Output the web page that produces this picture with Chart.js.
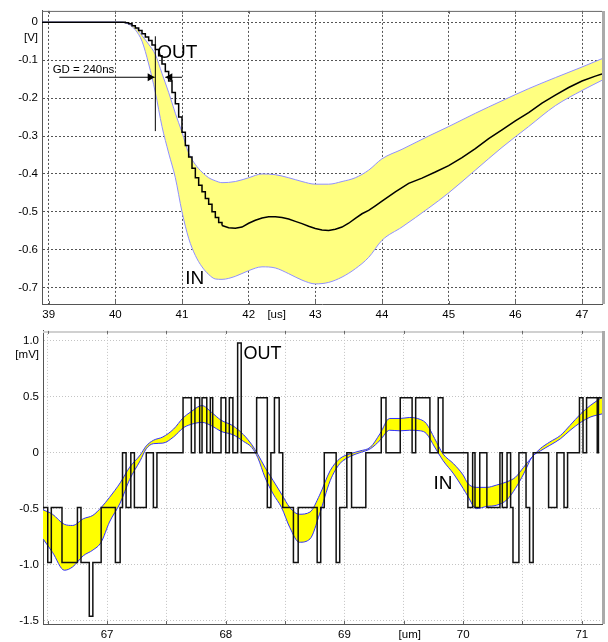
<!DOCTYPE html>
<html>
<head>
<meta charset="utf-8">
<script src="https://cdn.jsdelivr.net/npm/chart.js@4.4.1/dist/chart.umd.min.js"></script>
<style>
body { margin: 0; background: #fff; }
canvas { display: block; }
</style>
</head>
<body>
<canvas id="topChart" width="608" height="320"></canvas>
<canvas id="bottomChart" width="608" height="322"></canvas>
<script>
// top chart: time [us], voltage [V]
// OUT, sampled part (drawn as steps)
const outTopStepX = [38.9, 40.1, 40.15, 40.2, 40.25, 40.3, 40.35, 40.4, 40.45, 40.5, 40.55, 40.6, 40.65, 40.7, 40.75, 40.8, 40.85, 40.9, 40.95, 41.0,
    41.05, 41.1, 41.15, 41.2, 41.25, 41.3, 41.35, 41.4, 41.45, 41.5, 41.55, 41.6];
const outTopStepY = [0, 0, -0.001, -0.004, -0.009, -0.015, -0.022, -0.03, -0.039, -0.048, -0.06, -0.072, -0.088, -0.11, -0.13, -0.155, -0.185, -0.215, -0.25, -0.29,
    -0.325, -0.355, -0.385, -0.41, -0.43, -0.447, -0.465, -0.48, -0.5, -0.515, -0.528, -0.536];
// OUT, slow part
const outTopTailX = [41.6, 41.7, 41.8, 41.9, 42.0, 42.1, 42.2, 42.3, 42.4, 42.5, 42.6, 42.7, 42.8, 42.9, 43.0, 43.1, 43.2, 43.3, 43.4, 43.5,
    43.6, 43.7, 43.8, 43.9, 44.0, 44.2, 44.4, 44.6, 44.8, 45.0, 45.2, 45.4, 45.6, 45.8, 46.0, 46.2, 46.4, 46.6, 46.8, 47.0, 47.2, 47.3];
const outTopTailY = [-0.536, -0.542, -0.543, -0.54, -0.53, -0.522, -0.516, -0.513, -0.513, -0.515, -0.519, -0.525, -0.531, -0.538, -0.544, -0.548, -0.549, -0.546, -0.54, -0.53,
    -0.517, -0.505, -0.496, -0.484, -0.472, -0.447, -0.425, -0.411, -0.395, -0.378, -0.357, -0.333, -0.307, -0.284, -0.26, -0.238, -0.213, -0.192, -0.172, -0.155, -0.142, -0.136];

const inTopX = [38.9, 40.1, 40.2, 40.3, 40.4, 40.5, 40.6, 40.7, 40.8, 40.9, 41.0, 41.1, 41.2, 41.3, 41.4, 41.5, 41.6, 41.8, 42.0, 42.2,
    42.4, 42.6, 42.8, 43.0, 43.2, 43.4, 43.6, 43.8, 44.0, 44.3, 44.7, 45.0, 45.4, 45.8, 46.2, 46.6, 47.0, 47.3];
const inTopUpper = [0, 0, -0.003, -0.012, -0.035, -0.058, -0.085, -0.135, -0.185, -0.24, -0.29, -0.345, -0.375, -0.395, -0.41, -0.418, -0.423, -0.42, -0.41, -0.40,
    -0.402, -0.41, -0.42, -0.427, -0.427, -0.42, -0.41, -0.39, -0.36, -0.335, -0.30, -0.275, -0.24, -0.207, -0.175, -0.146, -0.118, -0.096];
const inTopLower = [0, 0, -0.005, -0.02, -0.05, -0.11, -0.185, -0.275, -0.345, -0.41, -0.50, -0.57, -0.615, -0.645, -0.665, -0.677, -0.678, -0.67, -0.655, -0.645,
    -0.648, -0.663, -0.68, -0.69, -0.686, -0.672, -0.65, -0.62, -0.575, -0.54, -0.49, -0.45, -0.39, -0.33, -0.275, -0.22, -0.18, -0.153];

const topXTicks = [39, 40, 41, 42, 43, 44, 45, 46, 47];
const topXLabels = ['39', '40', '41', '42', '43', '44', '45', '46', '47'];
const topYTicks = [0, -0.1, -0.2, -0.3, -0.4, -0.5, -0.6, -0.7];
const topYLabels = ['0', '-0.1', '-0.2', '-0.3', '-0.4', '-0.5', '-0.6', '-0.7'];

// bottom chart: position [um], signal [mV]
const outBotX = [66.46, 66.50, 66.53, 66.62, 66.75, 66.78, 66.85, 66.88, 66.95, 67.07, 67.11, 67.13, 67.16, 67.20, 67.23, 67.33, 67.39, 67.42, 67.64, 67.71,
    67.74, 67.78, 67.80, 67.84, 67.87, 67.89, 67.96, 68.00, 68.03, 68.06, 68.10, 68.13, 68.26, 68.35, 68.38, 68.41, 68.45, 68.48, 68.57, 68.61,
    68.77, 68.80, 68.83, 68.93, 68.96, 69.02, 69.06, 69.18, 69.31, 69.35, 69.47, 69.57, 69.60, 69.72, 69.79, 69.83, 70.04, 70.08, 70.10, 70.14,
    70.20, 70.31, 70.33, 70.37, 70.40, 70.42, 70.47, 70.53, 70.56, 70.59, 70.72, 70.79, 70.85, 70.88, 70.98, 71.01, 71.04, 71.13, 71.14, 71.17];
const outBotY = [-0.49, -0.98, -0.49, -0.98, -0.49, -0.98, -1.46, -0.98, -0.49, -0.98, -0.49, 0, -0.49, 0, -0.49, 0, -0.49, 0, 0.49, 0,
    0.49, 0, 0.49, 0, 0.49, 0, 0.49, 0, 0.49, 0, 0.98, 0, 0.49, -0.49, 0, 0.49, 0, -0.49, -0.98, -0.49,
    -0.98, -0.49, 0, -0.98, -0.49, 0, -0.49, 0, 0.49, 0, 0.49, 0, 0.49, 0, 0.49, 0, -0.49, 0, -0.49, 0,
    -0.49, 0, -0.49, 0, -0.49, -0.98, 0, -0.49, -0.98, 0, -0.49, 0, -0.49, 0, 0.49, 0, 0.49, 0, 0.49, 0.49];

const inBotX = [66.46, 66.54, 66.64, 66.71, 66.80, 66.88, 66.95, 67.02, 67.11, 67.19, 67.28, 67.33, 67.39, 67.47, 67.56, 67.64, 67.70, 67.80, 67.88, 67.96,
    68.06, 68.15, 68.22, 68.27, 68.33, 68.40, 68.47, 68.54, 68.62, 68.71, 68.79, 68.88, 68.96, 69.05, 69.13, 69.22, 69.30, 69.38, 69.47, 69.55,
    69.64, 69.69, 69.76, 69.83, 69.92, 70.00, 70.04, 70.11, 70.20, 70.28, 70.37, 70.44, 70.51, 70.58, 70.65, 70.73, 70.82, 70.90, 70.99, 71.07, 71.17];
const inBotUpper = [-0.51, -0.55, -0.64, -0.65, -0.59, -0.56, -0.49, -0.40, -0.27, -0.13, -0.02, 0.06, 0.11, 0.14, 0.21, 0.31, 0.36, 0.42, 0.36, 0.29,
    0.24, 0.16, 0.07, -0.015, -0.13, -0.25, -0.37, -0.49, -0.55, -0.53, -0.38, -0.16, -0.054, -0.01, 0.015, 0.05, 0.17, 0.305, 0.305, 0.314,
    0.296, 0.26, 0.126, -0.01, -0.10, -0.20, -0.275, -0.31, -0.31, -0.29, -0.26, -0.22, -0.13, -0.04, 0.036, 0.095, 0.154, 0.243, 0.346, 0.42, 0.494];
const inBotLower = [-0.77, -0.89, -1.05, -1.02, -0.92, -0.87, -0.80, -0.62, -0.45, -0.24, -0.07, 0.035, 0.08, 0.085, 0.14, 0.22, 0.25, 0.27, 0.24, 0.19,
    0.16, 0.10, 0.045, -0.045, -0.22, -0.37, -0.49, -0.67, -0.80, -0.77, -0.55, -0.25, -0.10, -0.033, 0.0, 0.036, 0.11, 0.20, 0.195, 0.20,
    0.195, 0.17, 0.05, -0.07, -0.19, -0.32, -0.39, -0.50, -0.48, -0.47, -0.42, -0.32, -0.19, -0.04, 0.015, 0.065, 0.124, 0.198, 0.27, 0.317, 0.346];

const botXTicks = [66.5, 67, 67.5, 68, 68.5, 69, 69.5, 70, 70.5, 71];
const botXLabels = ['', '67', '', '68', '', '69', '', '70', '', '71'];
const botYTicks = [1.0, 0.5, 0, -0.5, -1.0, -1.5];
const botYLabels = ['1.0', '0.5', '0', '-0.5', '-1.0', '-1.5'];

const FONT = "'Liberation Sans', Arial, sans-serif";

function xy(xs, ys) {
    return xs.map((x, i) => ({ x: x, y: ys[i] }));
}

// ticks list + one unit label that has no grid line
function tickScale(min, max, values, labels, unit, gridColor, dash, size) {
    const all = values.concat([unit.at]);
    const txt = labels.concat([unit.text]);
    return {
        type: 'linear',
        min: min,
        max: max,
        afterBuildTicks: (axis) => { axis.ticks = all.map(v => ({ value: v })); },
        afterFit: (axis) => {
            if (axis.isHorizontal()) axis.height = size; else axis.width = size;
        },
        ticks: {
            autoSkip: false,
            maxRotation: 0,
            color: '#000',
            padding: 4,
            font: { family: FONT, size: 11.5 },
            callback: (v, i) => txt[i]
        },
        grid: {
            drawTicks: false,
            lineWidth: 1,
            color: (c) => (c.index < values.length ? gridColor : 'rgba(0,0,0,0)')
        },
        border: { display: true, color: '#555', width: 1, dash: dash }
    };
}

// top/right frame lines and small inward tick marks on the x axis
const framePlugin = {
    id: 'frame',
    afterDraw(chart, args, opts) {
        const a = chart.chartArea;
        const ctx = chart.ctx;
        const sx = chart.scales.x;
        ctx.save();
        ctx.strokeStyle = opts.topColor;
        ctx.lineWidth = opts.topWidth;
        ctx.beginPath();
        ctx.moveTo(a.left, a.top + opts.topWidth / 2);
        ctx.lineTo(a.right, a.top + opts.topWidth / 2);
        ctx.stroke();
        ctx.strokeStyle = opts.rightColor;
        ctx.lineWidth = opts.rightWidth;
        ctx.beginPath();
        ctx.moveTo(a.right + opts.rightWidth / 2, a.top);
        ctx.lineTo(a.right + opts.rightWidth / 2, a.bottom);
        ctx.stroke();
        ctx.strokeStyle = '#666';
        ctx.lineWidth = 1;
        opts.marks.forEach(v => {
            const px = Math.round(sx.getPixelForValue(v)) + 0.5;
            ctx.beginPath();
            ctx.moveTo(px, a.top);
            ctx.lineTo(px, a.top + 3);
            ctx.moveTo(px, a.bottom);
            ctx.lineTo(px, a.bottom - 3);
            ctx.stroke();
        });
        ctx.restore();
    }
};

const notesPlugin = {
    id: 'notes',
    afterDatasetsDraw(chart, args, opts) {
        const ctx = chart.ctx;
        const sx = chart.scales.x;
        const sy = chart.scales.y;
        ctx.save();
        ctx.fillStyle = '#000';
        ctx.strokeStyle = '#000';
        ctx.textAlign = 'left';
        ctx.textBaseline = 'alphabetic';
        (opts.texts || []).forEach(t => {
            ctx.font = t.size + 'px ' + FONT;
            ctx.fillText(t.text, sx.getPixelForValue(t.x), sy.getPixelForValue(t.y));
        });
        (opts.lines || []).forEach(l => {
            const x1 = sx.getPixelForValue(l.x1), y1 = sy.getPixelForValue(l.y1);
            const x2 = sx.getPixelForValue(l.x2), y2 = sy.getPixelForValue(l.y2);
            ctx.lineWidth = l.width;
            ctx.beginPath();
            ctx.moveTo(x1, y1);
            ctx.lineTo(x2, y2);
            ctx.stroke();
            if (l.head) {
                const dir = x2 > x1 ? 1 : -1;
                ctx.beginPath();
                ctx.moveTo(x2, y2);
                ctx.lineTo(x2 - dir * 7, y2 - 4);
                ctx.lineTo(x2 - dir * 7, y2 + 4);
                ctx.closePath();
                ctx.fill();
            }
        });
        ctx.restore();
    }
};

new Chart(document.getElementById('topChart'), {
    type: 'line',
    data: {
        datasets: [
            {
                label: 'OUT',
                data: xy(outTopStepX, outTopStepY),
                borderColor: '#000',
                borderWidth: 1.5,
                pointRadius: 0,
                stepped: true,
                fill: false
            },
            {
                label: 'OUT tail',
                data: xy(outTopTailX, outTopTailY),
                borderColor: '#000',
                borderWidth: 1.5,
                pointRadius: 0,
                fill: false
            },
            {
                label: 'IN min',
                data: xy(inTopX, inTopLower),
                borderColor: '#9090ff',
                borderWidth: 1,
                pointRadius: 0,
                cubicInterpolationMode: 'monotone',
                fill: false
            },
            {
                label: 'IN max',
                data: xy(inTopX, inTopUpper),
                borderColor: '#9090ff',
                borderWidth: 1,
                pointRadius: 0,
                cubicInterpolationMode: 'monotone',
                backgroundColor: '#ffff80',
                fill: '-1'
            }
        ]
    },
    options: {
        responsive: false,
        animation: false,
        layout: { padding: { top: 4, right: 6, left: 0, bottom: 0 } },
        scales: {
            x: tickScale(38.9, 47.3, topXTicks, topXLabels, { at: 42.42, text: '[us]' }, '#555', [2, 2], 16),
            y: tickScale(-0.743, 0.03, topYTicks, topYLabels, { at: -0.041, text: '[V]' }, '#555', [2, 2], 42)
        },
        plugins: {
            legend: { display: false },
            tooltip: { enabled: false },
            frame: { topColor: '#666', topWidth: 1, rightColor: '#aaa', rightWidth: 3, marks: topXTicks },
            notes: {
                texts: [
                    { text: 'OUT', x: 40.63, y: -0.094, size: 19 },
                    { text: 'GD = 240ns', x: 39.06, y: -0.133, size: 11.5 },
                    { text: 'IN', x: 41.05, y: -0.69, size: 19 }
                ],
                lines: [
                    { x1: 39.16, y1: -0.145, x2: 40.59, y2: -0.145, width: 1, head: true },
                    { x1: 41.0, y1: -0.145, x2: 40.75, y2: -0.145, width: 1, head: true },
                    { x1: 40.60, y1: -0.037, x2: 40.60, y2: -0.287, width: 1 }
                ]
            }
        }
    },
    plugins: [framePlugin, notesPlugin]
});

new Chart(document.getElementById('bottomChart'), {
    type: 'line',
    data: {
        datasets: [
            {
                label: 'OUT',
                data: xy(outBotX, outBotY),
                borderColor: '#111',
                borderWidth: 1.5,
                pointRadius: 0,
                stepped: true,
                fill: false
            },
            {
                label: 'IN min',
                data: xy(inBotX, inBotLower),
                borderColor: '#3030ff',
                borderWidth: 1,
                pointRadius: 0,
                cubicInterpolationMode: 'monotone',
                fill: false
            },
            {
                label: 'IN max',
                data: xy(inBotX, inBotUpper),
                borderColor: '#3030ff',
                borderWidth: 1,
                pointRadius: 0,
                cubicInterpolationMode: 'monotone',
                backgroundColor: '#ffff00',
                fill: '-1'
            }
        ]
    },
    options: {
        responsive: false,
        animation: false,
        layout: { padding: { top: 5, right: 6, left: 0, bottom: 0 } },
        scales: {
            x: tickScale(66.46, 71.17, botXTicks, botXLabels, { at: 69.55, text: '[um]' }, '#c4c4c4', [1, 2], 18),
            y: tickScale(-1.53, 1.087, botYTicks, botYLabels, { at: 0.87, text: '[mV]' }, '#c4c4c4', [1, 2], 43)
        },
        plugins: {
            legend: { display: false },
            tooltip: { enabled: false },
            frame: { topColor: '#d0d0d0', topWidth: 2, rightColor: '#aaa', rightWidth: 3, marks: botXTicks },
            notes: {
                texts: [
                    { text: 'OUT', x: 68.15, y: 0.838, size: 18 },
                    { text: 'IN', x: 69.75, y: -0.326, size: 19 }
                ]
            }
        }
    },
    plugins: [framePlugin, notesPlugin]
});
</script>
</body>
</html>
